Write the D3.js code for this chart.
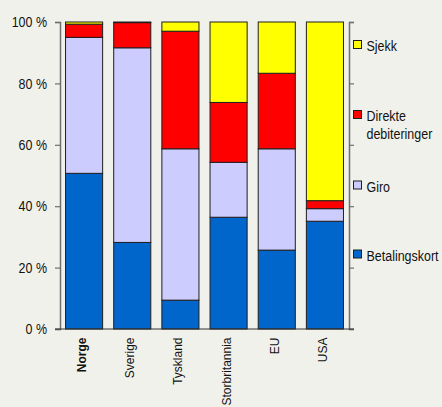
<!DOCTYPE html>
<html>
<head>
<meta charset="utf-8">
<script src="https://cdn.jsdelivr.net/npm/d3@7"></script>
<style>
  html, body { margin: 0; padding: 0; background: #f1f1ec; }
  svg { display: block; }
  text { font-family: "Liberation Sans", Arial, sans-serif; fill: #111; }
</style>
</head>
<body>
<svg id="chart" width="442" height="407"></svg>
<script>
// Share of payment methods by country (percent of transactions)
const countries = ["Norge", "Sverige", "Tyskland", "Storbritannia", "EU", "USA"];
const seriesNames = ["Betalingskort", "Giro", "Direkte debiteringer", "Sjekk"];
const betalingskort = [50.7, 28.2, 9.4, 36.4, 25.7, 35.1];
const giro          = [44.3, 63.4, 49.3, 17.9, 33.0, 4.1];
const direkte       = [4.3, 8.2, 38.3, 19.5, 24.6, 2.6];
const sjekk         = [0.7, 0.2, 3.0, 26.2, 16.7, 58.2];
const yTicks = [0, 20, 40, 60, 80, 100];
const colors = ["#0066cc", "#ccccff", "#ff0000", "#ffff00"];

const seriesValues = [betalingskort, giro, direkte, sjekk];
const rows = countries.map((c, i) => {
  const r = { country: c };
  seriesNames.forEach((s, k) => { r[s] = seriesValues[k][i]; });
  return r;
});
const stacked = d3.stack().keys(seriesNames)(rows);

const svg = d3.select("#chart");
const plotLeft = 60, plotRight = 349, plotTop = 22, plotBottom = 329;
const narrow = 0.89; // horizontal squeeze for the upright labels

const x = d3.scaleBand().domain(countries).range([plotLeft, plotRight])
  .paddingInner(0.23).paddingOuter(0.115);
const y = d3.scaleLinear().domain([0, 100]).range([plotBottom, plotTop]);
const color = d3.scaleOrdinal().domain(seriesNames).range(colors);

// stacked bars
svg.append("g").selectAll("g").data(stacked).join("g")
  .attr("fill", d => color(d.key))
  .selectAll("rect").data(d => d).join("rect")
  .attr("x", d => x(d.data.country))
  .attr("width", x.bandwidth())
  .attr("y", d => y(d[1]))
  .attr("height", d => y(d[0]) - y(d[1]))
  .attr("stroke", "#1e1e1e")
  .attr("stroke-width", 1);

// left axis with percent labels
const axL = svg.append("g").attr("transform", `translate(${plotLeft},0)`)
  .call(d3.axisLeft(y).tickValues(yTicks).tickSize(5).tickPadding(8)
    .tickFormat(d => d + " %"));
// right axis, ticks only
const axR = svg.append("g").attr("transform", `translate(${plotRight},0)`)
  .call(d3.axisRight(y).tickValues(yTicks).tickSize(5).tickFormat(""));
[axL, axR].forEach(a => {
  a.select(".domain").attr("stroke", "#6e6e6e").attr("stroke-width", 1.5);
  a.selectAll(".tick line").attr("stroke", "#6e6e6e").attr("stroke-width", 1.2);
});
axL.selectAll(".tick text")
  .style("font-family", "'Liberation Sans', Arial, sans-serif")
  .style("font-size", "14px").attr("fill", "#111")
  .attr("x", 0).attr("dy", "0.34em")
  .attr("transform", `translate(-13,0) scale(${narrow},1)`);

// baseline
svg.append("line").attr("x1", plotLeft - 5).attr("x2", plotRight + 5)
  .attr("y1", y(0)).attr("y2", y(0)).attr("stroke", "#333").attr("stroke-width", 1.2);

// category labels, rotated
const axB = svg.append("g").attr("transform", `translate(0,${plotBottom})`)
  .call(d3.axisBottom(x).tickSize(0).tickPadding(0));
axB.select(".domain").remove();
axB.selectAll("text")
  .style("font-family", "'Liberation Sans', Arial, sans-serif")
  .style("font-size", "12px")
  .style("font-weight", d => d === "Norge" ? "bold" : "normal")
  .attr("fill", "#111")
  .attr("text-anchor", "end")
  .attr("dy", null)
  .attr("y", 0)
  .attr("transform", "translate(2,8.5) rotate(-90)");

// legend, top entry is the top of the stack
const legendY = { "Sjekk": 45, "Direkte debiteringer": 115, "Giro": 185.5, "Betalingskort": 254.5 };
const lg = svg.append("g");
seriesNames.forEach(s => {
  const cy = legendY[s];
  lg.append("rect").attr("x", 353.5).attr("y", cy - 4.5).attr("width", 8).attr("height", 8)
    .attr("fill", color(s)).attr("stroke", "#1e1e1e").attr("stroke-width", 1);
  const t = lg.append("text")
    .attr("transform", `translate(366.5,${cy + 6}) scale(${narrow},1)`)
    .style("font-size", "14px");
  if (s === "Direkte debiteringer") {
    t.append("tspan").attr("x", 0).attr("y", 0).text("Direkte");
    t.append("tspan").attr("x", 0).attr("dy", 18).text("debiteringer");
  } else {
    t.text(s);
  }
});
</script>
</body>
</html>
